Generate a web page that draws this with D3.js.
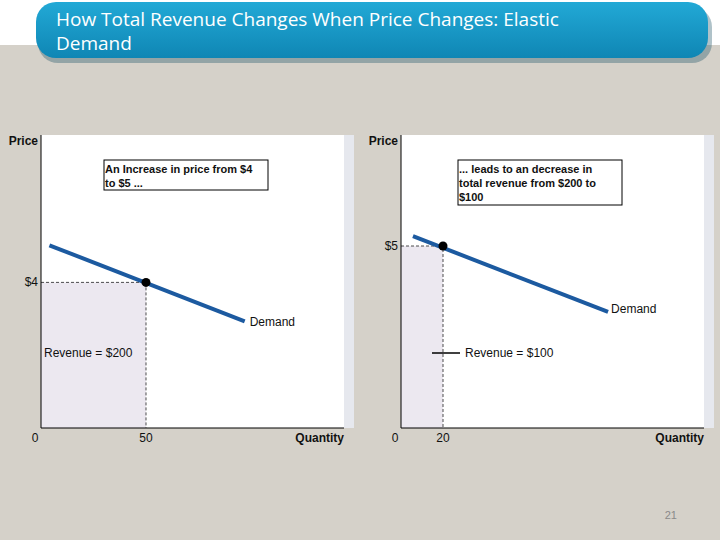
<!DOCTYPE html>
<html><head><meta charset="utf-8">
<script src="https://cdn.jsdelivr.net/npm/d3@7"></script>
<style>body{margin:0;background:#fff}</style>
</head><body>
<svg id="c" width="720" height="540"></svg>
<script>
// two panels: price rise from $4 to $5 with elastic demand
const panelIds = ['before', 'after']
const demandLeft = [{ q: 4, p: 5.02 }, { q: 97, p: 2.93 }]
const demandRight = [{ q: 5.7, p: 5.27 }, { q: 98.6, p: 3.19 }]
const points = [{ q: 50, p: 4 }, { q: 20, p: 5 }]
const priceLabels = ['$4', '$5']
const qtyLabels = ['50', '20']
const revenueLabels = ['Revenue = $200', 'Revenue = $100']
const notes = [['An Increase in price from $4', ' to $5 ...'], ['... leads to an decrease in', 'total revenue from $200 to', '$100']]

const svg = d3.select('#c')
const font = 'Liberation Sans, Arial, sans-serif'

svg.append('rect').attr('x', 0).attr('y', 45).attr('width', 720).attr('height', 495).attr('fill', '#d5d1c9')
const grad = svg.append('defs').append('linearGradient').attr('id', 'g').attr('x1', 0).attr('y1', 0).attr('x2', 0).attr('y2', 1)
grad.append('stop').attr('offset', 0).attr('stop-color', '#22a9d6')
grad.append('stop').attr('offset', 1).attr('stop-color', '#0f86b4')
svg.append('rect').attr('x', 36).attr('y', 4).attr('width', 674).attr('height', 56).attr('rx', 20).attr('fill', '#1b4f63').attr('opacity', 0.35).attr('transform', 'translate(2,3)')
svg.append('rect').attr('x', 36).attr('y', 2).attr('width', 672).attr('height', 56).attr('rx', 20).attr('fill', 'url(#g)')
svg.append('text').attr('x', 56).attr('y', 26).attr('fill', '#fff').attr('font-family', 'Open Sans, sans-serif').attr('font-size', 19).text('How Total Revenue Changes When Price Changes: Elastic')
svg.append('text').attr('x', 56).attr('y', 50).attr('fill', '#fff').attr('font-family', 'Open Sans, sans-serif').attr('font-size', 19).text('Demand')
svg.append('text').attr('x', 677).attr('y', 519).attr('text-anchor', 'end').attr('fill', '#8a8a8a').attr('font-family', font).attr('font-size', 11).text('21')

const x0s = [41, 401]
const demands = [demandLeft, demandRight]
const noteBoxes = [{ x: 104, y: 160, w: 164, h: 30 }, { x: 458, y: 160, w: 164, h: 45 }]
const demandLabelDy = [[5, 5], [3, 4]]

panelIds.forEach((id, i) => {
  const left = x0s[i]
  const x = d3.scaleLinear().domain([0, 100]).range([left, left + 210])
  const y = d3.scaleLinear().domain([0, 5]).range([428, 246])
  const g = svg.append('g').attr('id', id)
  g.append('rect').attr('x', left).attr('y', 135).attr('width', 303).attr('height', 293).attr('fill', '#fff')
  g.append('rect').attr('x', left + 303).attr('y', 135).attr('width', 10).attr('height', 293).attr('fill', '#e6e8ee')
  const pt = points[i]
  g.append('rect').attr('x', x(0)).attr('y', y(pt.p)).attr('width', x(pt.q) - x(0)).attr('height', y(0) - y(pt.p)).attr('fill', '#ece8f0')
  g.append('path').attr('d', `M${x(0)},${y(pt.p)}H${x(pt.q)}V${y(0)}`).attr('fill', 'none').attr('stroke', '#222').attr('stroke-width', 0.8).attr('stroke-dasharray', '3,2')
  // axes
  g.append('path').attr('d', `M${left},135V428H${left + 303}`).attr('fill', 'none').attr('stroke', '#000').attr('stroke-width', 1)
  const line = d3.line().x(d => x(d.q)).y(d => y(d.p))
  g.append('path').datum(demands[i]).attr('d', line).attr('stroke', '#1c5aa0').attr('stroke-width', 4).attr('fill', 'none')
  g.append('circle').attr('cx', x(pt.q)).attr('cy', y(pt.p)).attr('r', 4.5).attr('fill', '#000')
  const d1 = demands[i][1]
  const t = (s, xx, yy, o = {}) => g.append('text').attr('x', xx).attr('y', yy).attr('font-family', font).attr('font-size', o.size || 12)
    .attr('font-weight', o.bold ? 'bold' : 'normal').attr('text-anchor', o.anchor || 'start').attr('fill', '#111').text(s)
  t(priceLabels[i], left - 3, y(pt.p) + 4, { anchor: 'end' })
  t(qtyLabels[i], x(pt.q), 442, { anchor: 'middle' })
  t('0', left - 6, 442, { anchor: 'middle' })
  t('Price', left - 3, 145, { anchor: 'end', bold: true })
  t('Quantity', left + 303, 442, { anchor: 'end', bold: true })
  if (i === 0) t('Demand', x(d1.q) + 5, y(d1.p) + 5)
  else t('Demand', x(d1.q) + 3, y(d1.p) + 1)
  if (i === 0) t(revenueLabels[i], left + 3, 357)
  else {
    g.append('line').attr('x1', 432).attr('x2', 460).attr('y1', 353).attr('y2', 353).attr('stroke', '#000').attr('stroke-width', 1.5)
    t(revenueLabels[i], 465, 357)
  }
  const b = noteBoxes[i]
  g.append('rect').attr('x', b.x).attr('y', b.y).attr('width', b.w).attr('height', b.h).attr('fill', '#fff').attr('stroke', '#000')
  notes[i].forEach((s, k) => t(s, b.x + 1, b.y + 13 + k * 14, { bold: true, size: 11 }))
})
</script>
</body></html>
